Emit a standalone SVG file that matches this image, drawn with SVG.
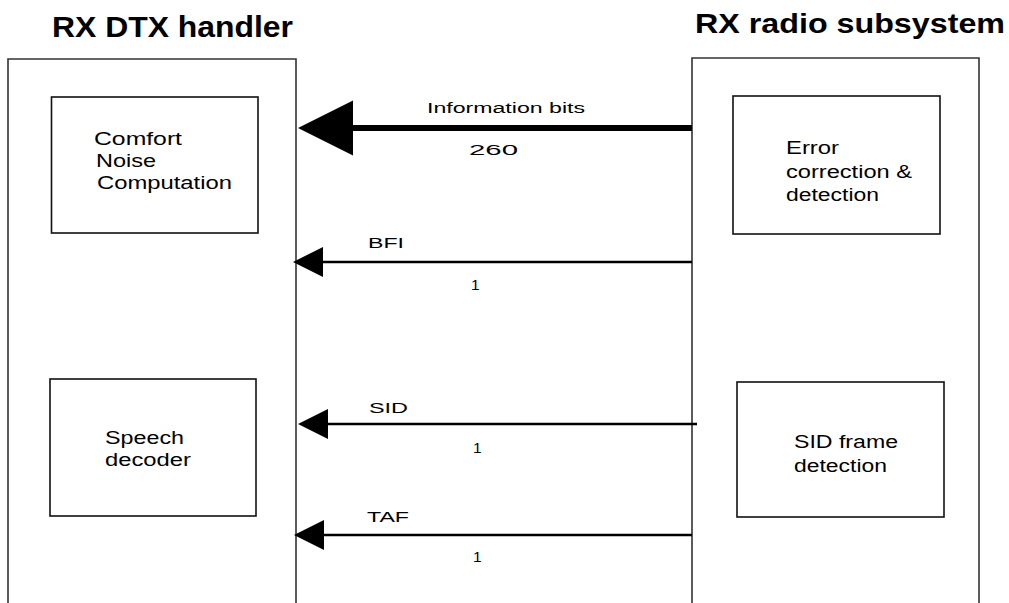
<svg xmlns="http://www.w3.org/2000/svg" width="1009" height="603" viewBox="0 0 1009 603">
<style>
.outer{fill:none;stroke:#333;stroke-width:1.6}
.inner{fill:#fff;stroke:#111;stroke-width:1.6}
.title{font-family:"Liberation Sans",Arial,sans-serif;font-weight:bold;fill:#000}
.t{font-family:"Liberation Sans",Arial,sans-serif;font-size:17.5px;fill:#000}
.lbl{font-family:"Liberation Sans",Arial,sans-serif;font-size:15.5px;fill:#000}
.thin{stroke:#000;stroke-width:2.3;fill:none}
.thick{stroke:#000;stroke-width:6;fill:none}
</style>
<defs>
<marker id="hs" markerUnits="userSpaceOnUse" markerWidth="31" markerHeight="31" refX="0" refY="15" orient="auto" viewBox="0 0 31 31">
<path d="M0,0 L30,15 L0,30 z" fill="#000"/>
</marker>
<marker id="hb" markerUnits="userSpaceOnUse" markerWidth="56" markerHeight="56" refX="0" refY="27.5" orient="auto" viewBox="0 0 56 56">
<path d="M0,0 L55,27.5 L0,55 z" fill="#000"/>
</marker>
</defs>
<rect width="1009" height="603" fill="#fff"/>
<g id="rx-dtx-handler">
<text class="title" x="52" y="37" font-size="30" textLength="241" lengthAdjust="spacingAndGlyphs">RX DTX handler</text>
<path class="outer" d="M8,610 V59 H296 V610"/>
</g>
<g id="rx-radio-subsystem">
<text class="title" x="695" y="33" font-size="28" textLength="310" lengthAdjust="spacingAndGlyphs">RX radio subsystem</text>
<path class="outer" d="M692,610 V58 H979 V610"/>
</g>
<g id="comfort-noise">
<rect class="inner" x="51.5" y="97" width="206.5" height="136"/>
<text class="t" x="94" y="145" textLength="88" lengthAdjust="spacingAndGlyphs">Comfort</text>
<text class="t" x="96" y="167" textLength="60" lengthAdjust="spacingAndGlyphs">Noise</text>
<text class="t" x="97" y="189" textLength="135" lengthAdjust="spacingAndGlyphs">Computation</text>
</g>
<g id="speech-decoder">
<rect class="inner" x="50" y="379" width="206" height="137"/>
<text class="t" x="105" y="444" textLength="79" lengthAdjust="spacingAndGlyphs">Speech</text>
<text class="t" x="105" y="466" textLength="86" lengthAdjust="spacingAndGlyphs">decoder</text>
</g>
<g id="error-correction">
<rect class="inner" x="733" y="96" width="207" height="138"/>
<text class="t" x="786" y="154" textLength="53" lengthAdjust="spacingAndGlyphs">Error</text>
<text class="t" x="786" y="178" textLength="126" lengthAdjust="spacingAndGlyphs">correction &amp;</text>
<text class="t" x="786" y="201" textLength="93" lengthAdjust="spacingAndGlyphs">detection</text>
</g>
<g id="sid-frame-detection">
<rect class="inner" x="737" y="382" width="207" height="135"/>
<text class="t" x="794" y="448" textLength="104" lengthAdjust="spacingAndGlyphs">SID frame</text>
<text class="t" x="794" y="472" textLength="93" lengthAdjust="spacingAndGlyphs">detection</text>
</g>
<g id="connectors">
<line class="thick" x1="692" y1="128" x2="353" y2="128" marker-end="url(#hb)"/>
<text class="lbl" x="427" y="113" textLength="158" lengthAdjust="spacingAndGlyphs">Information bits</text>
<text class="lbl" x="469" y="155" textLength="49" lengthAdjust="spacingAndGlyphs">260</text>
<line class="thin" x1="692" y1="262" x2="323" y2="262" marker-end="url(#hs)"/>
<text class="lbl" x="368" y="248" textLength="36" lengthAdjust="spacingAndGlyphs">BFI</text>
<text class="lbl" x="471" y="290">1</text>
<line class="thin" x1="697" y1="424" x2="328" y2="424" marker-end="url(#hs)"/>
<text class="lbl" x="369" y="413" textLength="39" lengthAdjust="spacingAndGlyphs">SID</text>
<text class="lbl" x="473" y="453">1</text>
<line class="thin" x1="692" y1="535" x2="324" y2="535" marker-end="url(#hs)"/>
<text class="lbl" x="367" y="522" textLength="42" lengthAdjust="spacingAndGlyphs">TAF</text>
<text class="lbl" x="473" y="562">1</text>
</g>
</svg>
